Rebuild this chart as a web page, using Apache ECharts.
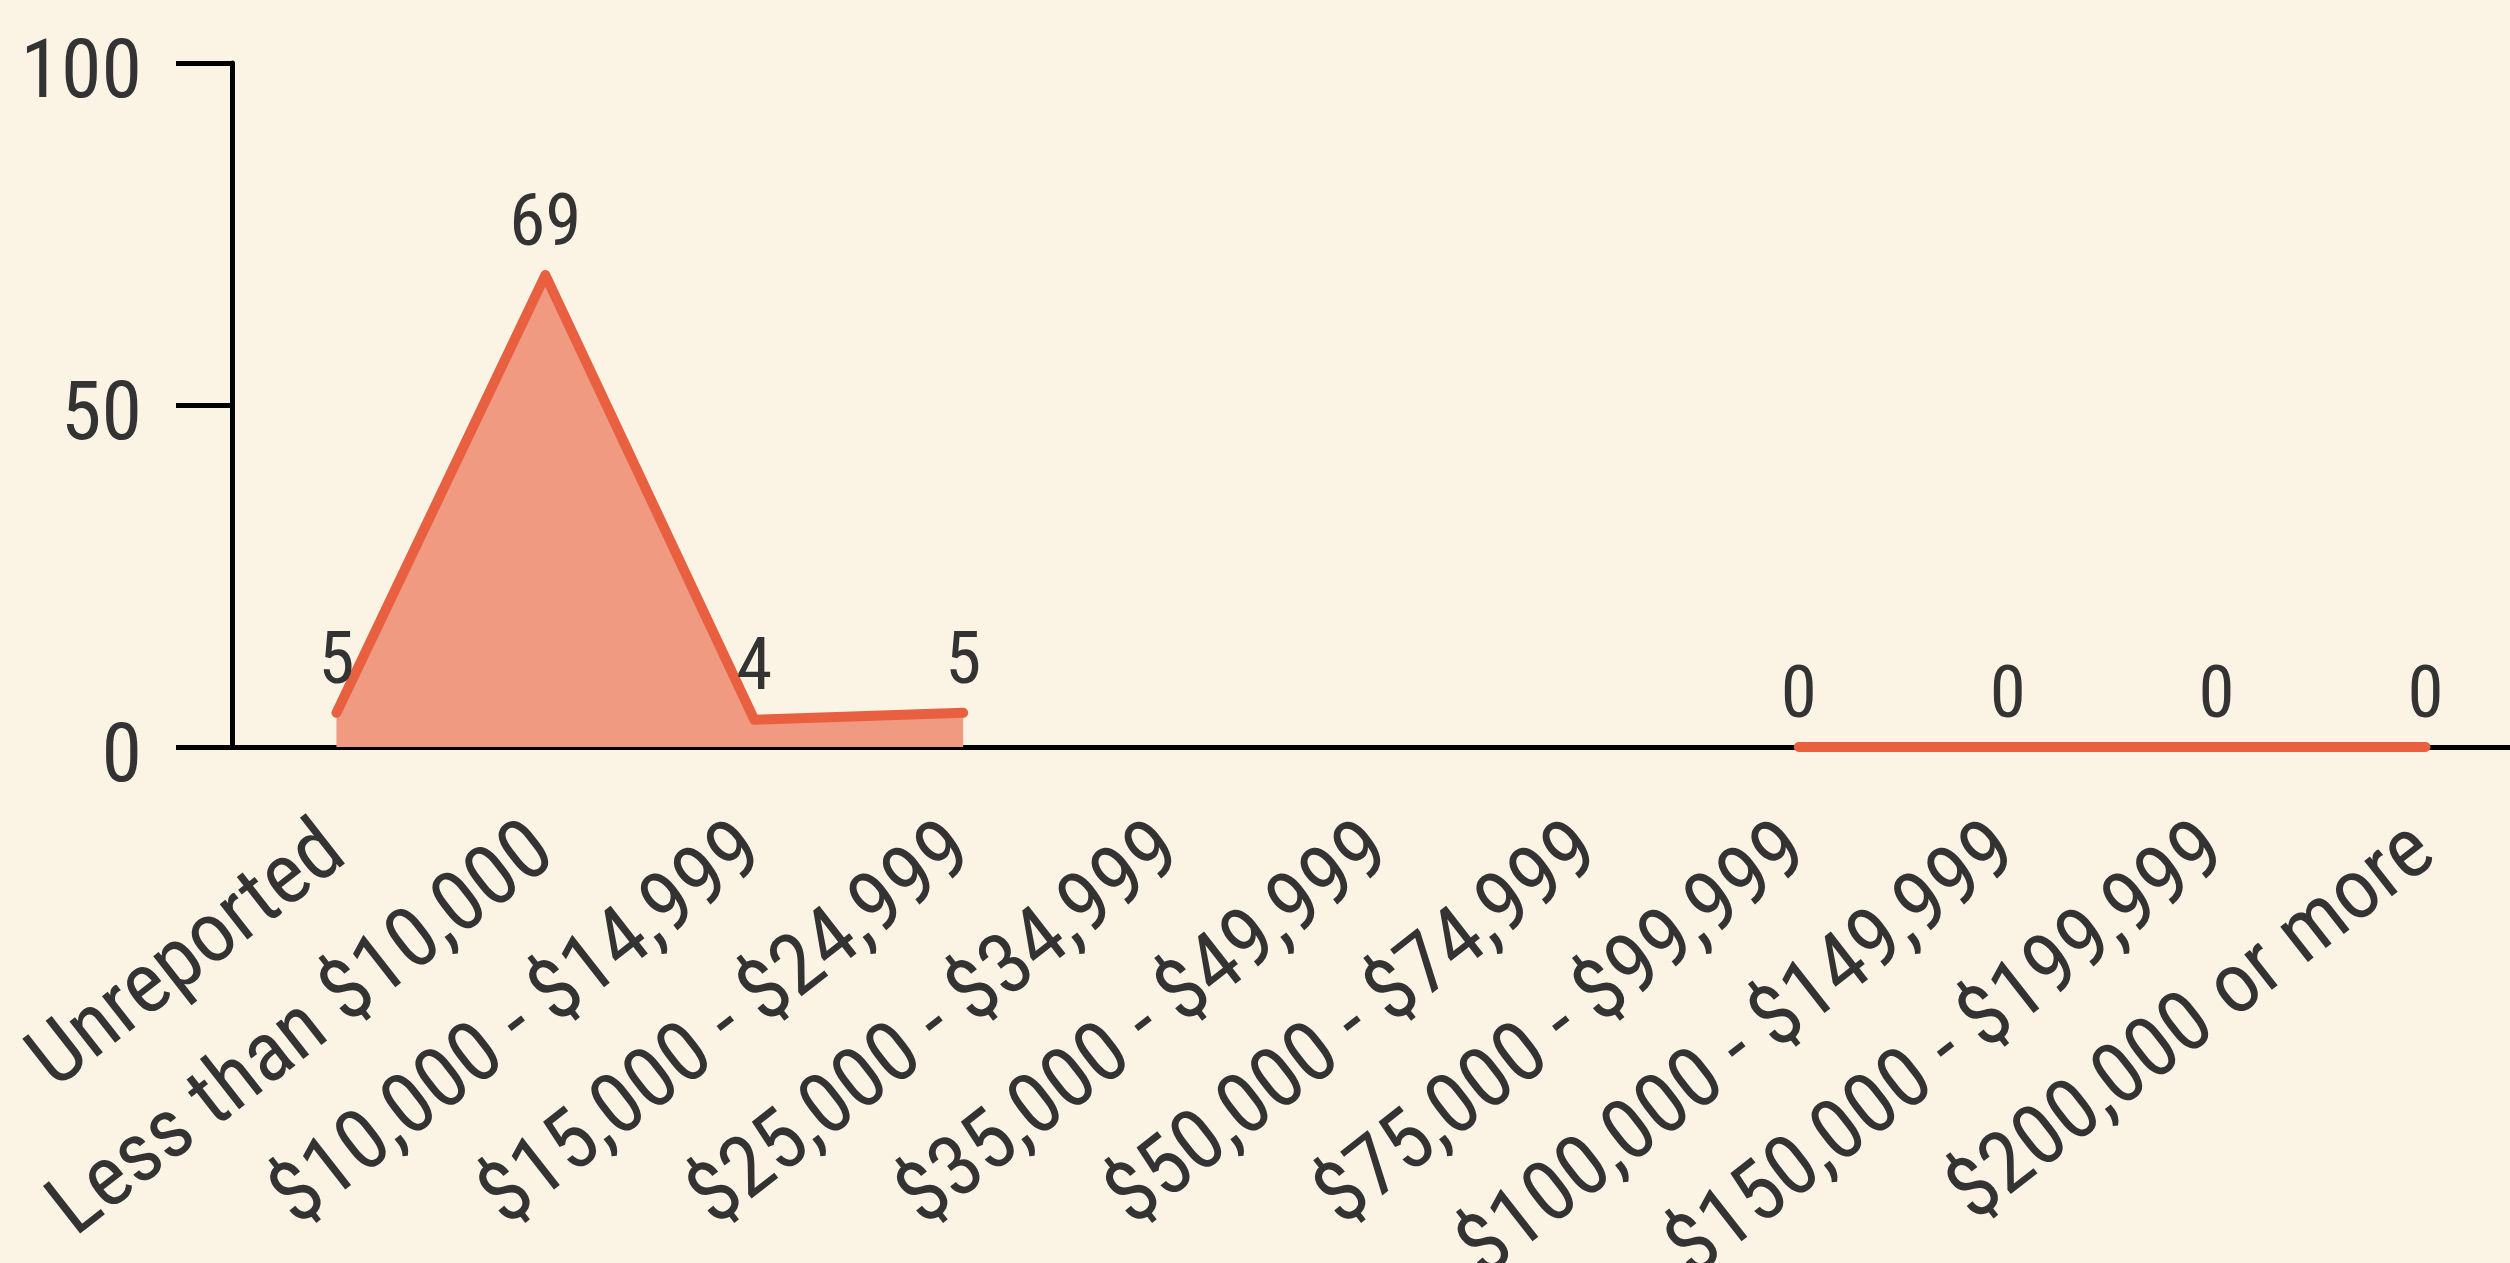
<!DOCTYPE html>
<html>
<head>
<meta charset="utf-8">
<script src="https://cdn.jsdelivr.net/npm/echarts@6/dist/echarts.min.js"></script>
<style>
  html, body { margin: 0; padding: 0; background: #fbf3e4; }
  #chart { width: 2510px; height: 1263px; }
</style>
</head>
<body>
<div id="chart"></div>
<script>
// income brackets and counts (null = no point drawn)
const categories = [
  'Unreported',
  'Less than $10,000',
  '$10,000 - $14,999',
  '$15,000 - $24,999',
  '$25,000 - $34,999',
  '$35,000 - $49,999',
  '$50,000 - $74,999',
  '$75,000 - $99,999',
  '$100,000 - $149,999',
  '$150,000 - $199,999',
  '$200,000 or more'
]
const counts = [5, 69, 4, 5, null, null, null, 0, 0, 0, 0]
const yTicks = [0, 50, 100]

const fontStack = "'Roboto Condensed', 'Liberation Sans Narrow', Roboto, sans-serif"
const textColor = '#333333'

const chart = echarts.init(document.getElementById('chart'))
let option = {
  backgroundColor: '#fbf3e4',
  animation: false,
  grid: {
    left: 232,
    top: 63,
    bottom: 516,
    right: -20,
    containLabel: false,
    outerBoundsMode: 'none'
  },
  xAxis: {
    type: 'category',
    data: categories,
    boundaryGap: true,
    axisLine: { lineStyle: { color: '#000', width: 5 } },
    axisTick: { alignWithLabel: true, length: 56, lineStyle: { color: '#000', width: 5 } },
    axisLabel: {
      interval: 0,
      rotate: 38,
      margin: 96,
      color: textColor,
      fontFamily: fontStack,
      fontSize: 85
    },
    splitLine: { show: false }
  },
  yAxis: {
    type: 'value',
    min: yTicks[0],
    max: yTicks[yTicks.length - 1],
    interval: yTicks[1] - yTicks[0],
    axisLine: { show: true, lineStyle: { color: '#000', width: 5 } },
    axisTick: { show: true, length: 56, lineStyle: { color: '#000', width: 5 } },
    axisLabel: {
      margin: 90,
      formatter: '{v|{value}}',
      rich: {
        v: {
          padding: [26, 0, 0, 0],
          color: textColor,
          fontFamily: fontStack,
          fontSize: 82
        }
      }
    },
    splitLine: { show: false }
  },
  series: [
    {
      type: 'line',
      data: counts,
      connectNulls: false,
      symbol: 'circle',
      symbolSize: 2,
      itemStyle: { color: '#e8603f' },
      lineStyle: { color: '#e8603f', width: 10, cap: 'round', join: 'round' },
      areaStyle: { color: '#f09a82', opacity: 1 },
      label: {
        show: true,
        position: 'top',
        distance: 11,
        color: textColor,
        fontFamily: fontStack,
        fontSize: 73
      }
    }
  ]
}
chart.setOption(option)
</script>
</body>
</html>
